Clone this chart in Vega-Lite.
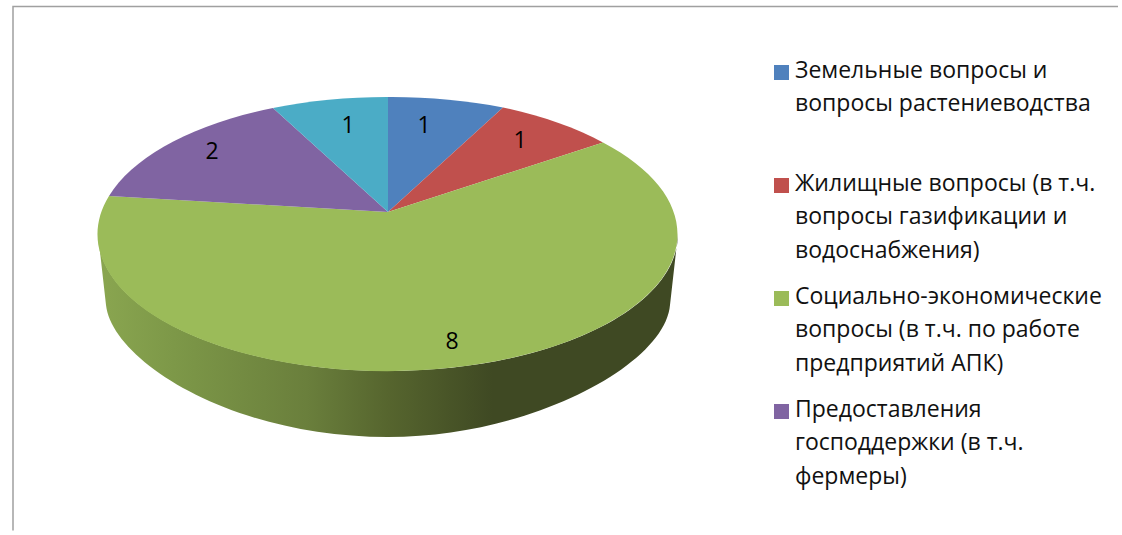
{
  "$schema": "https://vega.github.io/schema/vega-lite/v6.json",
  "width": 1122, "height": 535,
  "autosize": {"type": "fit", "contains": "padding"},
  "padding": 0,
  "background": "white",
  "config": {"view": {"stroke": null}, "font": "Open Sans", "style": {"guide-label": {"lineHeight": 33.5}}},
  "data": {"values": [
    {"key": "land", "category": "Земельные вопросы и|вопросы растениеводства", "value": 1},
    {"key": "housing", "category": "Жилищные вопросы (в т.ч.|вопросы газификации и|водоснабжения)", "value": 1},
    {"key": "social", "category": "Социально-экономические|вопросы (в т.ч. по работе|предприятий АПК)", "value": 8},
    {"key": "support", "category": "Предоставления|господдержки (в т.ч.|фермеры)", "value": 2},
    {"key": "other", "category": "Другие вопросы", "value": 1}
  ]},
  "layer": [
    {
      "transform": [{"filter": "datum.key == 'social'"}],
      "mark": {"type": "point", "filled": true, "size": 40000, "opacity": 1,
        "shape": "M-4.63,-.335 A2.9,1.37 0 0 0 1.17,-.335 L1.09,.375 C1.04,.975 -.31,1.695 -1.73,1.695 C-3.31,1.695 -4.49,.925 -4.55,.375 Z",
        "fill": {"gradient": "linear", "x1": 0, "y1": 0, "x2": 1, "y2": 0, "stops": [
          {"offset": 0, "color": "#8aa650"},
          {"offset": 0.13, "color": "#7d9848"},
          {"offset": 0.36, "color": "#6a7f3c"},
          {"offset": 0.5, "color": "#56652e"},
          {"offset": 0.68, "color": "#3f4923"},
          {"offset": 1, "color": "#3f4923"}
        ]}}
    },
    {
      "encoding": {
        "color": {"field": "category", "type": "nominal", "sort": null,
          "scale": {"domain": [
            "Земельные вопросы и|вопросы растениеводства",
            "Жилищные вопросы (в т.ч.|вопросы газификации и|водоснабжения)",
            "Социально-экономические|вопросы (в т.ч. по работе|предприятий АПК)",
            "Предоставления|господдержки (в т.ч.|фермеры)",
            "Другие вопросы"],
            "range": ["#4F81BD", "#C0504D", "#9BBB59", "#8064A2", "#4BACC6"]},
          "legend": {
            "title": null, "orient": "none", "legendX": 770, "legendY": 48,
            "symbolType": "M-1,.733 H1 V2.733 H-1 Z", "symbolSize": 225, "symbolStrokeWidth": 0,
            "labelExpr": "split(datum.label, '|')",
            "labelFont": "Open Sans", "labelFontSize": 23, "labelColor": "#111111", "labelLimit": 400, "labelOffset": 2,
            "labelBaseline": "top",
            "gridAlign": "all", "rowPadding": 11,
            "values": [
              "Земельные вопросы и|вопросы растениеводства",
              "Жилищные вопросы (в т.ч.|вопросы газификации и|водоснабжения)",
              "Социально-экономические|вопросы (в т.ч. по работе|предприятий АПК)",
              "Предоставления|господдержки (в т.ч.|фермеры)"]
          }}
      },
      "layer": [
        {"transform": [{"filter": "datum.key == 'land'"}],
         "mark": {"type": "point", "filled": true, "size": 40000, "opacity": 1, "shape": "M-1.73,-.555 L-1.73,-1.705 A2.9,1.37 0 0 1 -.58,-1.6 Z"}},
        {"transform": [{"filter": "datum.key == 'housing'"}],
         "mark": {"type": "point", "filled": true, "size": 40000, "opacity": 1, "shape": "M-1.73,-.555 L-.58,-1.6 A2.9,1.37 0 0 1 .42,-1.25 Z"}},
        {"transform": [{"filter": "datum.key == 'social'"}],
         "mark": {"type": "point", "filled": true, "size": 40000, "opacity": 1, "shape": "M-1.73,-.555 L.42,-1.25 A2.9,1.37 0 1 1 -4.52,-.715 Z"}},
        {"transform": [{"filter": "datum.key == 'support'"}],
         "mark": {"type": "point", "filled": true, "size": 40000, "opacity": 1, "shape": "M-1.73,-.555 L-4.52,-.715 A2.9,1.37 0 0 1 -2.88,-1.595 Z"}},
        {"transform": [{"filter": "datum.key == 'other'"}],
         "mark": {"type": "point", "filled": true, "size": 40000, "opacity": 1, "shape": "M-1.73,-.555 L-2.88,-1.595 A2.9,1.37 0 0 1 -1.73,-1.705 Z"}}
      ]
    },
    {
      "encoding": {"text": {"field": "value", "type": "quantitative"}},
      "layer": [
        {"transform": [{"filter": "datum.key == 'land'"}],
         "mark": {"type": "text", "font": "Open Sans", "fontSize": 23, "color": "black", "dx": -137, "dy": -141.5}},
        {"transform": [{"filter": "datum.key == 'housing'"}],
         "mark": {"type": "text", "font": "Open Sans", "fontSize": 23, "color": "black", "dx": -41, "dy": -126.5}},
        {"transform": [{"filter": "datum.key == 'social'"}],
         "mark": {"type": "text", "font": "Open Sans", "fontSize": 23, "color": "black", "dx": -109, "dy": 74.5}},
        {"transform": [{"filter": "datum.key == 'support'"}],
         "mark": {"type": "text", "font": "Open Sans", "fontSize": 23, "color": "black", "dx": -349, "dy": -115.5}},
        {"transform": [{"filter": "datum.key == 'other'"}],
         "mark": {"type": "text", "font": "Open Sans", "fontSize": 23, "color": "black", "dx": -213, "dy": -141.5}}
      ]
    },
    {
      "data": {"values": [{"frame": "chart area"}]},
      "mark": {"type": "point", "filled": false, "size": 40000, "opacity": 1, "stroke": "#a0a0a0", "strokeWidth": 1.5,
        "shape": "M-5.48,2.63 L-5.48,-2.61 L5.57,-2.61"}
    }
  ]
}
